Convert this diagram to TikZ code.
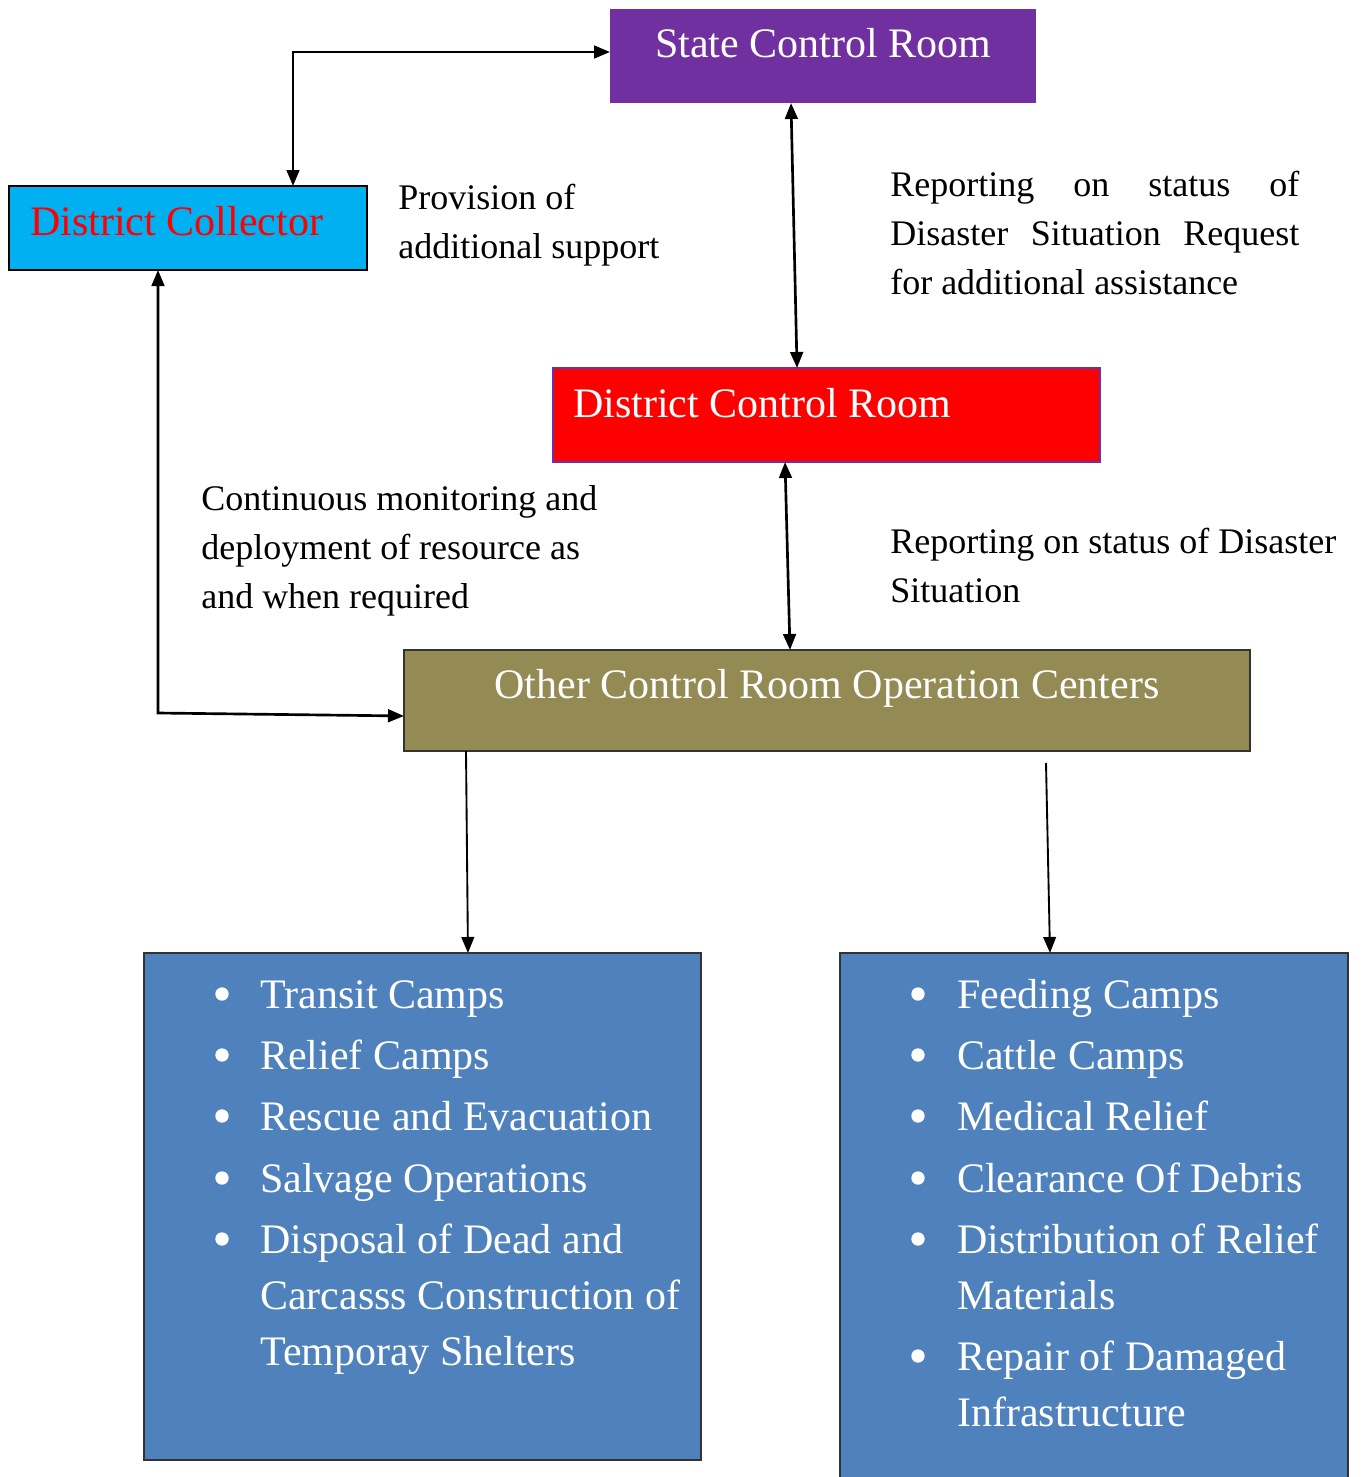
\documentclass[tikz,border=0pt]{standalone}
\usepackage{fontspec}
\setmainfont{Liberation Serif}
\usetikzlibrary{arrows.meta,calc}
\definecolor{scrpurple}{HTML}{7030A0}
\definecolor{dccyan}{HTML}{00B0F0}
\definecolor{dcrred}{HTML}{FF0000}
\definecolor{ocrolive}{HTML}{948A54}
\definecolor{listblue}{HTML}{4F81BD}
\definecolor{edgegray}{HTML}{333333}

\begin{document}
\begin{tikzpicture}
  [
    x=0.75pt, y=-0.75pt,
    >={Triangle[length=12pt,width=9.5pt]},
    box/.style 2 args={anchor=north west, inner sep=0pt, outer sep=0pt,
      minimum width=#1*0.75pt, minimum height=#2*0.75pt},
    title/.style={text=white, font=\fontsize{31.5}{38}\selectfont, inner sep=0pt},
    note/.style={font=\fontsize{27}{36.75}\selectfont, align=left,
      inner sep=0pt, anchor=north west},
    entry/.style={text=white, font=\fontsize{31.5}{42}\selectfont,
      inner sep=0pt, anchor=base west},
    bul/.style={circle, fill=white, inner sep=0pt, minimum size=10pt},
    link/.style={<->, line width=2pt},
    feed/.style={->, line width=1.4pt}
  ]
  \useasboundingbox (0,0) rectangle (1361,1477);

  % boxes
  \node[box={426}{94}, fill=scrpurple] (scr) at (610,9) {};
  \node[box={358}{84}, fill=dccyan, draw=black, line width=1.8pt] (dc) at (9,186) {};
  \node[box={547}{94}, fill=dcrred, draw=scrpurple, line width=1.2pt] (dcr) at (553,368) {};
  \node[box={846}{101}, fill=ocrolive, draw=edgegray, line width=1.8pt] (ocr) at (404,650) {};
  \node[box={557}{507}, fill=listblue, draw=edgegray, line width=1.8pt] (leftlist) at (144,953) {};
  \node[box={508}{540}, fill=listblue, draw=edgegray, line width=1.8pt] (rightlist) at (840,953) {};

  \node[title, anchor=base] (scrtext) at (823,58) {State Control Room};
  \node[title, anchor=base west, text=dcrred] (dctext) at (30,235) {District Collector};
  \node[title, anchor=base west] (dcrtext) at (573,417) {District Control Room};
  \node[title, anchor=base] (ocrtext) at (827,698) {Other Control Room Operation Centers};

  % notes
  \node[note] (support) at (398,184) {Provision of\\additional support};
  \node[note] (request) at (890,171)
    {\makebox[306.75pt][s]{Reporting on status of}\\
     \makebox[306.75pt][s]{Disaster Situation Request}\\
     for additional assistance};
  \node[note] (monitor) at (201,485)
    {Continuous monitoring and\\deployment of resource as\\and when required};
  \node[note] (report) at (890,528) {Reporting on status of Disaster\\Situation};

  % lists
  \foreach \y/\b/\t [count=\i] in {1008/1/Transit Camps, 1069/1/Relief Camps,
      1130/1/Rescue and Evacuation, 1192/1/Salvage Operations,
      1253/1/Disposal of Dead and, 1309/0/Carcasss Construction of,
      1365/0/Temporay Shelters}
  {
    \node[entry] (lt\i) at (260,\y) {\t};
    \ifnum\b=1 \node[bul] (lb\i) at (222,\y-14) {}; \fi
  }
  \foreach \y/\b/\t [count=\i] in {1008/1/Feeding Camps, 1069/1/Cattle Camps,
      1130/1/Medical Relief, 1192/1/Clearance Of Debris,
      1253/1/Distribution of Relief, 1309/0/Materials,
      1370/1/Repair of Damaged, 1426/0/Infrastructure}
  {
    \node[entry] (rt\i) at (957,\y) {\t};
    \ifnum\b=1 \node[bul] (rb\i) at (918,\y-14) {}; \fi
  }

  % connectors
  \draw[link] ([xshift=78.75pt]dc.north) |- ([yshift=3pt]scr.west);
  \draw[link] ([xshift=-24pt]scr.south) -- ([xshift=-22.1pt]dcr.north);
  \draw[link] ([xshift=-31.1pt]dcr.south) -- ([xshift=-27.75pt]ocr.north);
  \draw[link] ([xshift=-22.5pt]dc.south) -- ++(0,443) -- ([yshift=-11.6pt]ocr.west);
  \draw[feed] ([xshift=-270.75pt]ocr.south) -- ([xshift=34.1pt]leftlist.north);
  \draw[feed] ([xshift=164.25pt,yshift=-9pt]ocr.south) -- ([xshift=-33pt]rightlist.north);

\end{tikzpicture}
\end{document}
